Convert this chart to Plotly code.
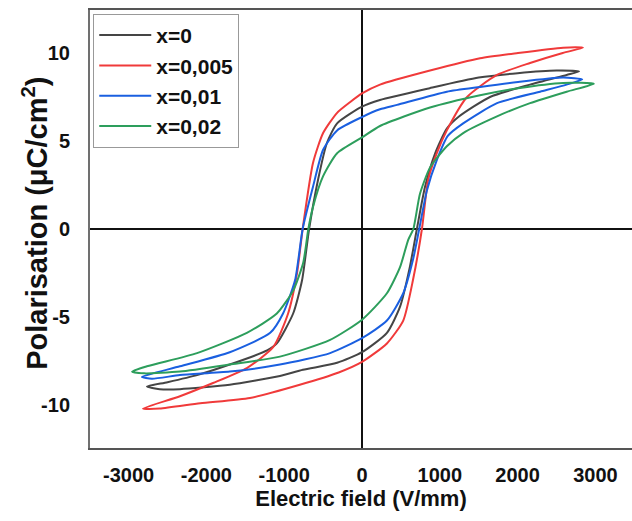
import plotly.graph_objects as go

# ---------------- data ----------------
names = ["x=0", "x=0,005", "x=0,01", "x=0,02"]
colors = ["#454545", "#f03a3a", "#1a5fe0", "#2d9e5c"]

# x=0 (black)
E0_up = [2790, 2500, 2000, 1500, 870, 230, 0, -320, -450, -565, -680, -770, -885, -1095, -1220, -1700, -2120, -2500, -2765]
P0_up = [8.95, 9.0, 8.85, 8.6, 8.0, 7.33, 6.95, 6.0, 4.9, 2.8, 0.0, -2.9, -4.8, -6.5, -6.9, -7.7, -8.3, -8.7, -8.95]
E0_lo = [-2765, -2600, -2340, -1700, -1055, -760, -320, 0, 320, 490, 615, 705, 810, 940, 1090, 1250, 1645, 2160, 2630, 2790]
P0_lo = [-8.95, -9.1, -9.1, -8.85, -8.35, -8.0, -7.6, -7.0, -5.9, -4.4, -2.15, 0.0, 2.4, 4.3, 5.7, 6.4, 7.5, 8.2, 8.75, 8.95]

# x=0,005 (red)
E1_up = [2840, 2585, 2005, 1517, 874, 231, 0, -155, -320, -500, -630, -763, -835, -950, -1140, -1480, -1915, -2340, -2815]
P1_up = [10.3, 10.3, 10.0, 9.7, 9.0, 8.2, 7.7, 7.2, 6.6, 5.45, 3.75, 0.0, -2.5, -4.8, -6.7, -7.9, -8.75, -9.5, -10.2]
E1_lo = [-2815, -2600, -2080, -1440, -800, -300, 0, 320, 530, 655, 770, 850, 960, 1090, 1350, 1735, 2160, 2580, 2840]
P1_lo = [-10.2, -10.2, -9.9, -9.6, -8.85, -8.15, -7.55, -6.5, -5.2, -2.9, 0.0, 2.8, 4.3, 5.6, 7.5, 8.75, 9.43, 10.0, 10.3]

# x=0,01 (blue)
E2_up = [2830, 2585, 2005, 1517, 1090, 450, 231, 0, -320, -500, -630, -763, -860, -1015, -1180, -1700, -2340, -2830]
P2_up = [8.5, 8.6, 8.35, 8.07, 7.8, 7.05, 6.8, 6.36, 5.6, 4.5, 2.4, 0.0, -2.9, -4.8, -5.9, -7.0, -7.8, -8.4]
E2_lo = [-2830, -2700, -2340, -1700, -1055, -410, 0, 320, 530, 655, 735, 835, 960, 1105, 1300, 1735, 2290, 2630, 2830]
P2_lo = [-8.4, -8.5, -8.3, -8.1, -7.7, -7.05, -6.2, -5.2, -3.65, -1.75, 0.0, 2.2, 3.9, 5.3, 6.0, 7.15, 7.8, 8.2, 8.5]

# x=0,02 (green)
E3_up = [2980, 2585, 2005, 1517, 874, 231, 0, -320, -500, -630, -690, -755, -885, -1095, -1480, -2120, -2765, -2955]
P3_up = [8.25, 8.3, 8.0, 7.6, 6.9, 5.85, 5.2, 4.3, 3.0, 1.25, 0.0, -1.9, -3.5, -4.8, -5.9, -7.05, -7.8, -8.1]
E3_lo = [-2955, -2800, -2340, -1700, -1055, -410, 0, 320, 490, 595, 660, 745, 875, 1090, 1300, 1735, 2160, 2630, 2980]
P3_lo = [-8.1, -8.2, -8.1, -7.7, -7.25, -6.3, -5.15, -3.65, -2.15, -0.6, 0.0, 2.0, 3.5, 4.7, 5.45, 6.4, 7.15, 7.8, 8.25]

x_ticks = [-3000, -2000, -1000, 0, 1000, 2000, 3000]
y_ticks = [-10, -5, 0, 5, 10]

series = [
    (E0_up, P0_up, E0_lo, P0_lo),
    (E1_up, P1_up, E1_lo, P1_lo),
    (E2_up, P2_up, E2_lo, P2_lo),
    (E3_up, P3_up, E3_lo, P3_lo),
]

FONT = "Arial, 'Liberation Sans', sans-serif"

fig = go.Figure()
for name, color, (eu, pu, el, pl) in zip(names, colors, series):
    fig.add_trace(go.Scatter(
        x=eu + el[1:], y=pu + pl[1:], mode="lines", name=name,
        line=dict(color=color, width=2, shape="spline", smoothing=0.6),
    ))

fig.update_layout(
    width=632, height=521,
    margin=dict(l=90, r=0, t=10, b=73),
    paper_bgcolor="white", plot_bgcolor="white",
    font=dict(family=FONT, color="#111111"),
    showlegend=True,
    legend=dict(
        x=0.006, y=0.991, xanchor="left", yanchor="top",
        bgcolor="white", bordercolor="#999999", borderwidth=1,
        font=dict(family=FONT, size=21, weight="bold", color="#111111"),
        tracegroupgap=0, itemwidth=52,
    ),
    annotations=[dict(
        text="Polarisation (μC/cm<sup>2</sup>)", textangle=-90,
        xref="paper", yref="paper", x=-0.1015, y=0.514,
        xanchor="center", yanchor="middle", showarrow=False,
        font=dict(family=FONT, size=29, weight="bold", color="#111111"),
    )],
)

fig.update_xaxes(
    range=[-3496, 3470], tickvals=x_ticks, ticktext=[str(v) for v in x_ticks],
    showgrid=False, zeroline=True, zerolinecolor="#111111", zerolinewidth=2,
    showline=True, linecolor="#555555", linewidth=2, mirror=True,
    ticks="", ticklabelstandoff=8,
    tickfont=dict(family=FONT, size=20, weight="bold", color="#111111"),
    title=dict(text="Electric field (V/mm)", standoff=6,
               font=dict(family=FONT, size=22, weight="bold", color="#111111")),
)
fig.update_yaxes(
    range=[-12.44, 12.44], tickvals=y_ticks, ticktext=[str(v) for v in y_ticks],
    showgrid=False, zeroline=True, zerolinecolor="#111111", zerolinewidth=2,
    showline=True, linecolor="#707070", linewidth=2, mirror=False,
    ticks="", ticklabelstandoff=14,
    tickfont=dict(family=FONT, size=20, weight="bold", color="#111111"),
)

fig.write_html("out.html")
